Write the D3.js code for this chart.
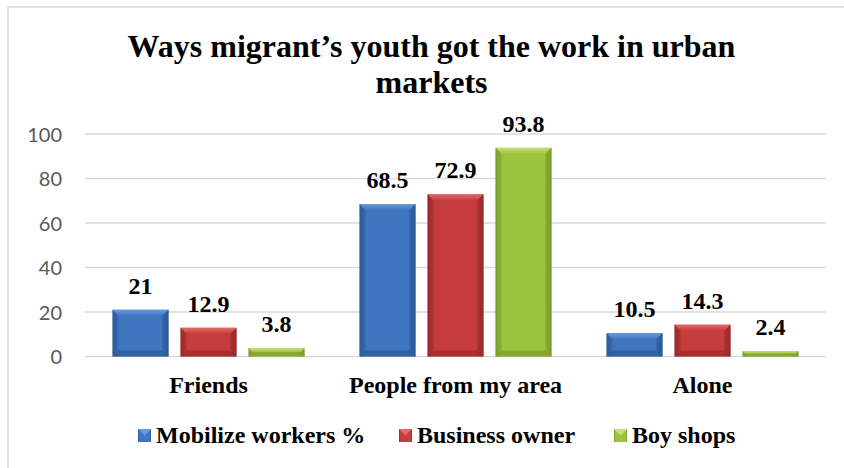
<!DOCTYPE html>
<html>
<head>
<meta charset="utf-8">
<script src="https://cdn.jsdelivr.net/npm/d3@7/dist/d3.min.js"></script>
<style>
  html, body { margin: 0; padding: 0; background: #ffffff; }
  svg { display: block; }
  .serif { font-family: "Liberation Serif", "Times New Roman", Tinos, Times, serif; font-weight: 700; fill: #000; }
  .tick-label { font-family: Lato, "Open Sans", sans-serif; fill: #595959; }
</style>
</head>
<body>
<svg id="chart" width="844" height="468"></svg>
<script>
// Chart data
const categories = ["Friends", "People from my area", "Alone"];
const seriesNames = ["Mobilize workers %", "Business owner", "Boy shops"];
const mobilizeWorkers = [21, 68.5, 10.5];
const businessOwner = [12.9, 72.9, 14.3];
const boyShops = [3.8, 93.8, 2.4];
const yTicks = [0, 20, 40, 60, 80, 100];
const titleLines = ["Ways migrant\u2019s youth got the work in urban", "markets"];

const seriesValues = [mobilizeWorkers, businessOwner, boyShops];

// Colours per series: body, light bevel, dark edge
const palette = [
  { body: "#3f76bf", light: "#6a9be0", dark: "#2c5a98" },
  { body: "#c63c3c", light: "#e46a6a", dark: "#99292a" },
  { body: "#9cc43f", light: "#c4df79", dark: "#7c9c2c" }
];

const svg = d3.select("#chart");
const W = 844, H = 468;

// Outer chart frame (extends past the bottom-right edge)
svg.append("rect")
  .attr("x", 8).attr("y", 7)
  .attr("width", W + 20).attr("height", H + 20)
  .attr("fill", "#ffffff")
  .attr("stroke", "#d9d9d9").attr("stroke-width", 1.5);

const plot = { left: 85, right: 826, top: 134, bottom: 356.5 };

const y = d3.scaleLinear().domain([0, 100]).range([plot.bottom, plot.top]);
const x0 = d3.scaleBand().domain(categories).range([plot.left, plot.right]).padding(0);
const x1 = d3.scaleBand().domain(seriesNames)
  .range([27.5, x0.bandwidth() - 27.5])
  .paddingInner(0.176).paddingOuter(0);

// Gradients for bar bodies
const defs = svg.append("defs");
palette.forEach((c, i) => {
  const g = defs.append("linearGradient").attr("id", "body" + i)
    .attr("x1", "0").attr("x2", "1").attr("y1", "0").attr("y2", "0");
  g.append("stop").attr("offset", "0%").attr("stop-color", c.dark);
  g.append("stop").attr("offset", "12%").attr("stop-color", c.body);
  g.append("stop").attr("offset", "88%").attr("stop-color", c.body);
  g.append("stop").attr("offset", "100%").attr("stop-color", c.dark);
  const t = defs.append("linearGradient").attr("id", "top" + i)
    .attr("x1", "0").attr("x2", "0").attr("y1", "0").attr("y2", "1");
  t.append("stop").attr("offset", "0%").attr("stop-color", c.light);
  t.append("stop").attr("offset", "100%").attr("stop-color", c.body);
});

// Gridlines
svg.append("g").selectAll("line").data(yTicks).join("line")
  .attr("x1", plot.left).attr("x2", plot.right)
  .attr("y1", d => y(d)).attr("y2", d => y(d))
  .attr("stroke", "#d9d9d9").attr("stroke-width", 1.5);

// Y axis labels
const yAxis = d3.axisLeft(y).tickValues(yTicks).tickSize(0).tickPadding(0);
const yg = svg.append("g").attr("transform", "translate(62,0)").call(yAxis);
yg.select(".domain").remove();
yg.attr("font-family", null).attr("font-size", null);
yg.selectAll("text")
  .attr("class", "tick-label")
  .style("font-size", "20px")
  .attr("dy", "0.36em");

// Bars
const barData = [];
categories.forEach((cat, ci) => {
  seriesNames.forEach((s, si) => {
    barData.push({ cat, s, si, v: seriesValues[si][ci] });
  });
});

const bars = svg.append("g").selectAll("g").data(barData).join("g");
bars.each(function (d) {
  const g = d3.select(this);
  const bx = x0(d.cat) + x1(d.s);
  const bw = x1.bandwidth();
  const top = y(d.v);
  const bot = y(0);
  const h = bot - top;
  const b = Math.min(6, h / 2);
  const c = palette[d.si];
  g.append("rect").attr("x", bx).attr("y", top).attr("width", bw).attr("height", h)
    .attr("fill", `url(#body${d.si})`);
  // top facet
  g.append("polygon")
    .attr("points", [[bx, top], [bx + bw, top], [bx + bw - b, top + b], [bx + b, top + b]].join(" "))
    .attr("fill", `url(#top${d.si})`);
  // left facet
  g.append("polygon")
    .attr("points", [[bx, top], [bx + b, top + b], [bx + b, bot - b], [bx, bot]].join(" "))
    .attr("fill", c.dark).attr("opacity", 0.35);
  // right facet
  g.append("polygon")
    .attr("points", [[bx + bw, top], [bx + bw - b, top + b], [bx + bw - b, bot - b], [bx + bw, bot]].join(" "))
    .attr("fill", c.dark).attr("opacity", 0.6);
  // bottom facet
  g.append("polygon")
    .attr("points", [[bx, bot], [bx + b, bot - b], [bx + bw - b, bot - b], [bx + bw, bot]].join(" "))
    .attr("fill", c.dark).attr("opacity", 0.7);
  // value label
  g.append("text")
    .attr("class", "serif")
    .attr("x", bx + bw / 2).attr("y", top - 16)
    .attr("text-anchor", "middle")
    .style("font-size", "24px")
    .text(d.v);
});

// Category labels
const xAxis = d3.axisBottom(x0).tickSize(0).tickPadding(0);
const xg = svg.append("g").attr("transform", "translate(0,375)").call(xAxis);
xg.select(".domain").remove();
xg.attr("font-family", null).attr("font-size", null);
xg.selectAll("text")
  .attr("class", "serif")
  .style("font-size", "24px")
  .attr("y", 17.7).attr("dy", 0);

// Title
svg.append("text")
  .attr("class", "serif")
  .attr("x", 431.5).attr("text-anchor", "middle")
  .style("font-size", "32px")
  .selectAll("tspan").data(titleLines).join("tspan")
  .attr("x", 431.5).attr("y", (d, i) => 57 + i * 36)
  .text(d => d);

// Legend
const legendX = [138, 399, 614];
const leg = svg.append("g").selectAll("g").data(seriesNames).join("g")
  .attr("transform", (d, i) => `translate(${legendX[i]},429)`);
leg.append("rect").attr("width", 13).attr("height", 13)
  .attr("fill", (d, i) => `url(#body${i})`);
leg.append("polygon")
  .attr("points", "0,0 13,0 6.5,6.5")
  .attr("fill", (d, i) => palette[i].light);
leg.append("text")
  .attr("class", "serif")
  .attr("x", 18).attr("y", 14.3)
  .style("font-size", "24px")
  .text(d => d);
</script>
</body>
</html>
